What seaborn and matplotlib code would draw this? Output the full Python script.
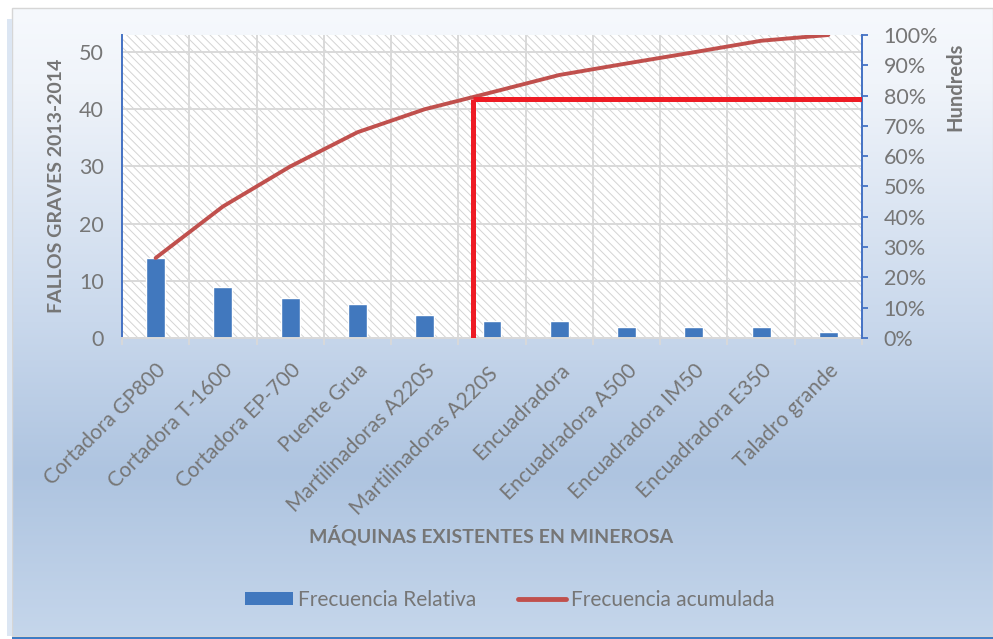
import numpy as np
import pandas as pd
import matplotlib
matplotlib.use("Agg")
import matplotlib.pyplot as plt
import seaborn as sns
from matplotlib.patches import Rectangle, Patch
from matplotlib.lines import Line2D
from matplotlib.ticker import FixedLocator, PercentFormatter

# ---- data ----
categories = ["Cortadora GP800", "Cortadora T-1600", "Cortadora EP-700", "Puente Grua",
              "Martilinadoras A220S", "Martilinadoras A220S ", "Encuadradora",
              "Encuadradora A500", "Encuadradora IM50", "Encuadradora E350", "Taladro grande"]
fallos = [14, 9, 7, 6, 4, 3, 3, 2, 2, 2, 1]
acumulada = [26.4, 43.4, 56.6, 67.9, 75.5, 81.1, 86.8, 90.6, 94.3, 98.1, 100.0]
left_ticks = [0, 10, 20, 30, 40, 50]
right_ticks = [0, 10, 20, 30, 40, 50, 60, 70, 80, 90, 100]
pareto_x = 4.72
pareto_y = 79.0

sns.set_theme(style="white")
plt.rcParams['font.family'] = ['Lato', 'DejaVu Sans']
TXT = '#767676'
W, H = 993, 639
fig = plt.figure(figsize=(W / 100, H / 100), dpi=100, facecolor='white')

# background gradient frame
bg = fig.add_axes([0, 0, 1, 1], zorder=-10)
bg.set_xlim(0, W); bg.set_ylim(0, H); bg.axis('off')
stops_t = [0.0, 0.12, 0.5, 0.74, 1.0]
stops_c = np.array([[246, 249, 253], [240, 244, 250], [201, 216, 236], [174, 196, 224], [197, 214, 235]]) / 255
t = np.linspace(0, 1, 300)
grad = np.stack([np.interp(t, stops_t, stops_c[:, k]) for k in range(3)], axis=1)
img = np.repeat(grad[:, None, :], 2, axis=1)
bg.imshow(img, extent=[12, W, 3, H - 8], aspect='auto', interpolation='bilinear')
bg.add_patch(Rectangle((12, 3), W - 12, H - 11, fill=False, edgecolor='#D6D6D6', lw=1))
bg.add_patch(Rectangle((7, 3), 5, H - 22, facecolor='#DCE6F3', edgecolor='none'))
bg.add_patch(Rectangle((12, 0), W - 12, 2.5, facecolor='#3E7BC4', edgecolor='none'))

# main axes
L, R, T, B = 122, 862, 35, 338
ax = fig.add_axes([L / W, 1 - B / H, (R - L) / W, (B - T) / H])
ax.set_facecolor('none')
ax.patch.set_alpha(0)
plt.rcParams['hatch.linewidth'] = 0.7
ax.add_patch(Rectangle((0, 0), 1, 1, transform=ax.transAxes, facecolor='white',
                       edgecolor='#D4D4D4', hatch='\\\\\\\\', lw=0, zorder=0.1))

df = pd.DataFrame({"maquina": categories, "fallos": fallos})
sns.barplot(data=df, x="maquina", y="fallos", ax=ax, color='#4178BE', saturation=1,
            width=0.28, zorder=2)
ax.set_xlim(-0.5, len(categories) - 0.5)
ax.set_ylim(0, 53)
ax.yaxis.set_major_locator(FixedLocator(left_ticks))
ax.set_xlabel(''); ax.set_ylabel('')
ax.set_axisbelow(True)
ax.grid(axis='y', color='#D9D9D9', lw=1.4, zorder=0.5)
ax.xaxis.set_minor_locator(FixedLocator(np.arange(-0.5, len(categories), 1.0)))
ax.grid(axis='x', which='minor', color='#D9D9D9', lw=1.4, zorder=0.5)
ax.grid(axis='x', which='major', visible=False)
for s in ['top', 'right']:
    ax.spines[s].set_visible(False)
ax.spines['left'].set_color('#4472C4'); ax.spines['left'].set_linewidth(1.4)
ax.spines['bottom'].set_color('#D9D9D9'); ax.spines['bottom'].set_linewidth(1.4)
ax.tick_params(axis='y', length=0, pad=13, labelsize=15.5, labelcolor=TXT)
ax.tick_params(axis='x', which='major', length=0, pad=16, labelsize=15, labelcolor=TXT)
ax.tick_params(axis='x', which='minor', length=5, width=1.3, color='#D9D9D9', bottom=True)
ax.set_xticks(range(len(categories)))
ax.set_xticklabels(categories, rotation=45, ha='right', rotation_mode='anchor')

ax2 = ax.twinx()
sns.lineplot(x=np.arange(len(acumulada)), y=acumulada, ax=ax2, color='#C0504D', lw=2.8, zorder=3)
ax2.plot([pareto_x, pareto_x], [0, pareto_y], color='#EE1C25', lw=3.6, solid_capstyle='butt', zorder=4)
ax2.plot([pareto_x, len(categories) - 0.5], [pareto_y, pareto_y], color='#EE1C25', lw=3.6,
         solid_capstyle='butt', zorder=4)
ax2.set_ylim(0, 100)
ax2.yaxis.set_major_locator(FixedLocator(right_ticks))
ax2.yaxis.set_major_formatter(PercentFormatter(decimals=0))
for s in ['top', 'left', 'bottom']:
    ax2.spines[s].set_visible(False)
ax2.spines['right'].set_color('#4472C4'); ax2.spines['right'].set_linewidth(1.4)
ax2.tick_params(axis='y', length=4.5, width=1.3, color='#4472C4', pad=11, labelsize=15.5, labelcolor=TXT)
ax2.set_ylabel('')

# axis titles
fig.text(57 / W, 1 - 186 / H, "FALLOS GRAVES 2013-2014", rotation=90, ha='center', va='center',
         fontsize=14, fontweight='bold', color=TXT)
fig.text(491 / W, 1 - 535 / H, "MÁQUINAS EXISTENTES EN MINEROSA", ha='center', va='center',
         fontsize=14, fontweight='bold', color=TXT)
fig.text(955 / W, 1 - 43 / H, "Hundreds", rotation=90, ha='center', va='top',
         fontsize=14.5, fontweight='bold', color=TXT)

handles = [Patch(facecolor='#4178BE', edgecolor='none'),
           Line2D([0], [0], color='#C0504D', lw=3.5)]
fig.legend(handles, ["Frecuencia Relativa", "Frecuencia acumulada"], loc='center',
           bbox_to_anchor=(510 / W, 1 - 600 / H), ncol=2, frameon=False, fontsize=15,
           labelcolor=TXT, handlelength=2.3, handleheight=0.55, handletextpad=0.25, columnspacing=2.0)

fig.savefig("out.png", dpi=100, facecolor='white')
